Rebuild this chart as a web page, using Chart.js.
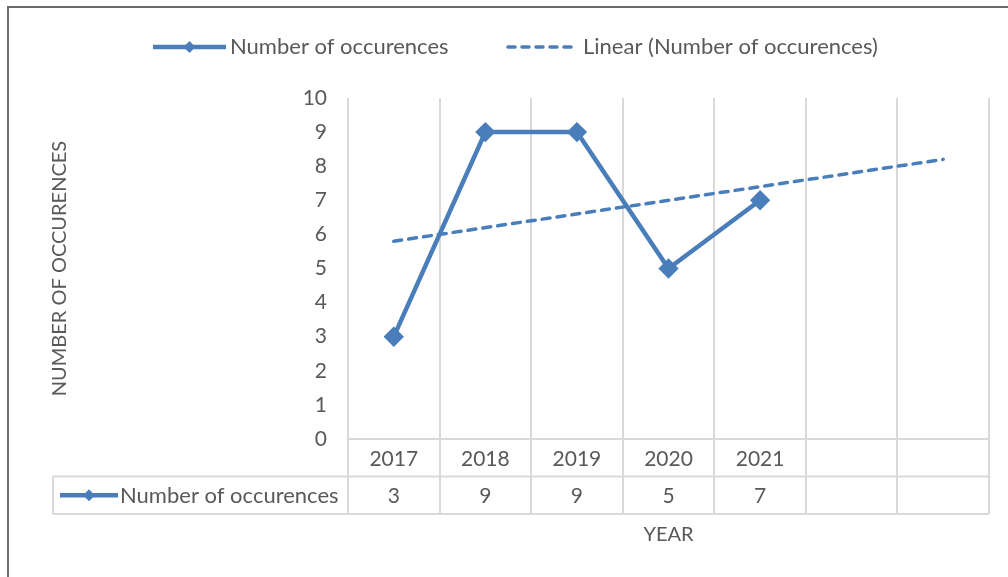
<!DOCTYPE html>
<html>
<head>
<meta charset="utf-8">
<script src="https://cdn.jsdelivr.net/npm/chart.js@4.4.1/dist/chart.umd.min.js"></script>
<style>
  html, body { margin: 0; padding: 0; background: #fff; }
  #wrap { position: relative; width: 1008px; height: 577px; overflow: hidden; }
  #frame { position: absolute; left: 7px; top: 6px; width: 1100px; height: 700px;
           border-top: 2px solid #6a6a6a; border-left: 2px solid #6a6a6a; }
  canvas { position: absolute; left: 0; top: 0; }
</style>
</head>
<body>
<div id="wrap">
  <div id="frame"></div>
  <canvas id="occChart" width="1008" height="577"></canvas>
</div>
<script>
const years = ['2017', '2018', '2019', '2020', '2021', '', ''];
const occurences = [3, 9, 9, 5, 7, null, null];
// linear trend, forecast two periods forward
const trendLine = [5.8, null, null, null, null, null, 8.2];
const yTicks = [0, 1, 2, 3, 4, 5, 6, 7, 8, 9, 10];

const seriesName = 'Number of occurences';
const trendName = 'Linear (Number of occurences)';
const blue = '#4a7ebb';
const textGrey = '#595959';
const lineGrey = '#d9d9d9';
const font = 'Lato';

function drawKey(ctx, x1, x2, y, dashed) {
    ctx.save();
    ctx.strokeStyle = blue;
    if (dashed) {
        ctx.lineWidth = 3.5;
        ctx.lineCap = 'round';
        ctx.setLineDash([7, 7]);
    } else {
        ctx.lineWidth = 4.5;
    }
    ctx.beginPath();
    ctx.moveTo(x1, y);
    ctx.lineTo(x2, y);
    ctx.stroke();
    if (!dashed) {
        const cx = (x1 + x2) / 2, r = 6;
        ctx.fillStyle = blue;
        ctx.beginPath();
        ctx.moveTo(cx, y - r);
        ctx.lineTo(cx + r, y);
        ctx.lineTo(cx, y + r);
        ctx.lineTo(cx - r, y);
        ctx.closePath();
        ctx.fill();
    }
    ctx.restore();
}

const tablePlugin = {
    id: 'tablePlugin',
    beforeDatasetsDraw(chart) {
        const { ctx, chartArea, scales } = chart;
        const x = scales.x;
        const step = x.getPixelForValue(1) - x.getPixelForValue(0);
        const rowH = 37.5;
        const row1 = chartArea.bottom + rowH;
        const row2 = row1 + rowH;
        ctx.save();
        ctx.strokeStyle = lineGrey;
        ctx.lineWidth = 2;
        // vertical grid, running down through the table
        for (let i = 0; i <= years.length; i++) {
            const gx = Math.round(x.getPixelForValue(0) - step / 2 + i * step);
            ctx.beginPath();
            ctx.moveTo(gx, chartArea.top);
            ctx.lineTo(gx, row2);
            ctx.stroke();
        }
        ctx.beginPath();
        ctx.moveTo(chartArea.left, chartArea.bottom);
        ctx.lineTo(chartArea.right, chartArea.bottom);
        ctx.moveTo(53, row1);
        ctx.lineTo(chartArea.right, row1);
        ctx.moveTo(53, row2);
        ctx.lineTo(chartArea.right, row2);
        ctx.moveTo(53, row1);
        ctx.lineTo(53, row2);
        ctx.stroke();

        ctx.fillStyle = textGrey;
        ctx.font = '21px ' + font;
        ctx.textAlign = 'center';
        ctx.textBaseline = 'middle';
        years.forEach((yr, i) => {
            const cx = x.getPixelForValue(i);
            ctx.fillText(yr, cx, chartArea.bottom + rowH / 2 + 1);
            if (occurences[i] !== null) {
                ctx.fillText(String(occurences[i]), cx, row1 + rowH / 2 + 1);
            }
        });
        // series key in the table
        ctx.font = '22px ' + font;
        drawKey(ctx, 60, 118, row1 + rowH / 2, false);
        ctx.textAlign = 'left';
        ctx.fillText(seriesName, 120, row1 + rowH / 2 + 1);

        // top legend
        drawKey(ctx, 153, 226, 47, false);
        ctx.fillText(seriesName, 230, 47);
        drawKey(ctx, 508, 578, 47, true);
        ctx.fillText(trendName, 583, 47);

        // axis titles
        ctx.font = '20px ' + font;
        ctx.textAlign = 'center';
        ctx.fillText('YEAR', (chartArea.left + chartArea.right) / 2, 535);
        ctx.translate(60, (chartArea.top + chartArea.bottom) / 2);
        ctx.rotate(-Math.PI / 2);
        ctx.fillText('NUMBER OF OCCURENCES', 0, 0);
        ctx.restore();
    }
};

new Chart(document.getElementById('occChart'), {
    type: 'line',
    data: {
        labels: years,
        datasets: [{
            label: seriesName,
            data: occurences,
            borderColor: blue,
            backgroundColor: blue,
            borderWidth: 4.5,
            pointStyle: 'rectRot',
            pointRadius: 7,
            pointHoverRadius: 7,
            tension: 0,
        }, {
            label: trendName,
            data: trendLine,
            borderColor: blue,
            borderWidth: 3.5,
            borderDash: [8, 7],
            borderCapStyle: 'round',
            pointRadius: 0,
            spanGaps: true,
            tension: 0,
        }],
    },
    options: {
        responsive: false,
        animation: false,
        layout: {
            padding: { left: 0, right: 19, top: 98, bottom: 138 },
        },
        scales: {
            x: {
                offset: true,
                grid: { display: false },
                border: { display: false },
                ticks: { display: false },
                afterFit: (s) => { s.height = 0; },
            },
            y: {
                min: 0,
                max: 10,
                afterBuildTicks: (s) => { s.ticks = yTicks.map(v => ({ value: v })); },
                grid: { display: false, drawTicks: false },
                border: { display: false },
                ticks: {
                    color: textGrey,
                    font: { family: font, size: 21 },
                    padding: 21,
                },
                afterFit: (s) => { s.width = 348; },
            },
        },
        plugins: {
            legend: { display: false },
            tooltip: { enabled: false },
        },
    },
    plugins: [tablePlugin],
});
</script>
</body>
</html>
